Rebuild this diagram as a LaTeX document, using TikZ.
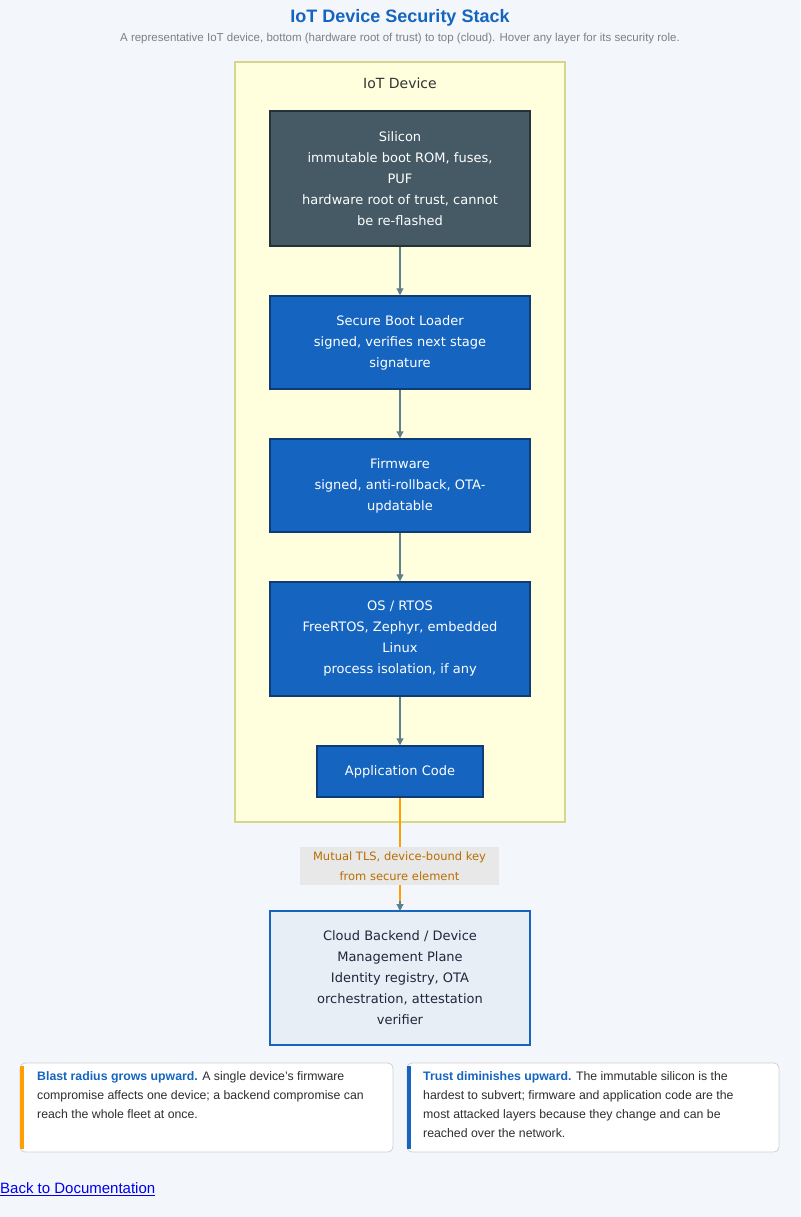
\documentclass[tikz,border=0pt]{standalone}
\usepackage{fontspec}
\setmainfont{Liberation Sans}
\newfontfamily\dfont{DejaVu Sans}
\usetikzlibrary{arrows.meta}
\definecolor{bg}{HTML}{F3F6FB}
\definecolor{mblue}{HTML}{1565C0}
\definecolor{dblue}{HTML}{0D3C78}
\definecolor{slate}{HTML}{455A64}
\definecolor{dslate}{HTML}{263238}
\definecolor{edge}{HTML}{5F7F8F}
\definecolor{orng}{HTML}{FFA000}
\definecolor{devfill}{HTML}{FFFFDE}
\definecolor{devdraw}{HTML}{D6D68C}
\definecolor{cloudfill}{HTML}{E8EEF6}
\definecolor{cloudtext}{HTML}{1E283C}
\definecolor{lblfill}{HTML}{E8E8E8}
\definecolor{lbltext}{HTML}{B86E00}
\definecolor{linkc}{HTML}{0000EE}
\begin{document}
\begin{tikzpicture}[x=1pt,y=-1pt,
  box/.style={draw=dblue,line width=1.5pt,fill=mblue,text=white,font=\dfont\fontsize{13}{21}\selectfont,align=center,inner sep=0pt},
  arr/.style={draw=edge,line width=1.2pt,-{Triangle[length=7pt,width=7pt]}},
  note/.style={draw=black!18,fill=white,rounded corners=5pt,line width=0.8pt},
  ntext/.style={anchor=north west,align=left,font=\fontsize{12.3}{19}\selectfont,text=black!82,inner sep=0pt}]
\fill[bg] (0,0) rectangle (800,1217);
\useasboundingbox (0,0) rectangle (800,1217);
\node (title) at (400,18) {\fontsize{18}{20}\selectfont\bfseries\color{mblue}IoT Device Security Stack};
\node (sub) at (400,39) {\fontsize{11.5}{13}\selectfont\color{black!50}A representative IoT device, bottom (hardware root of trust) to top (cloud). Hover any layer for its security role.};
\draw[fill=devfill,draw=devdraw,line width=1.2pt] (235,62) rectangle (565,822);
\node (devlbl) at (400,83) {\dfont\fontsize{14}{16}\selectfont\color{black!80}IoT Device};
\node[box,fill=slate,draw=dslate,minimum width=260pt,minimum height=135pt] (sil) at (400,178.5) {Silicon\\immutable boot ROM, fuses,\\PUF\\hardware root of trust, cannot\\be re-flashed};
\node[box,minimum width=260pt,minimum height=93pt] (sbl) at (400,342.5) {Secure Boot Loader\\signed, verifies next stage\\signature};
\node[box,minimum width=260pt,minimum height=93pt] (fw) at (400,485.5) {Firmware\\signed, anti-rollback, OTA-\\updatable};
\node[box,minimum width=260pt,minimum height=114pt] (os) at (400,639) {OS / RTOS\\FreeRTOS, Zephyr, embedded\\Linux\\process isolation, if any};
\node[box,minimum width=166pt,minimum height=51pt] (app) at (400,771.5) {Application Code};
\node[draw=mblue,line width=2pt,fill=cloudfill,text=cloudtext,font=\dfont\fontsize{13}{21}\selectfont,align=center,minimum width=260pt,minimum height=134pt,inner sep=0pt] (cloud) at (400,978) {Cloud Backend / Device\\Management Plane\\Identity registry, OTA\\orchestration, attestation\\verifier};
\coordinate (tipstart) at ([yshift=9pt]cloud.north);
\draw[arr] (sil) -- (sbl);
\draw[arr] (sbl) -- (fw);
\draw[arr] (fw) -- (os);
\draw[arr] (os) -- (app);
\draw[orng,line width=2.5pt] (app.south) -- (tipstart);
\node[fill=lblfill,minimum width=199pt,minimum height=38pt,inner sep=0pt,align=center,font=\dfont\fontsize{11.5}{20}\selectfont,text=lbltext] (lbl) at (399.5,866) {Mutual TLS, device-bound key\\from secure element};
\draw[arr,shorten >=-1pt] (tipstart) -- (cloud.north);
\draw[note] (20,1063) rectangle (393,1152);
\draw[orng,line width=4pt] (22,1066) -- (22,1149);
\draw[note] (407,1063) rectangle (779,1152);
\draw[mblue,line width=4pt] (409,1066) -- (409,1149);
\node[ntext] (n1) at (37,1071) {\textbf{\color{mblue}Blast radius grows upward.} A single device's firmware\\compromise affects one device; a backend compromise can\\reach the whole fleet at once.};
\node[ntext] (n2) at (423,1071) {\textbf{\color{mblue}Trust diminishes upward.} The immutable silicon is the\\hardest to subvert; firmware and application code are the\\most attacked layers because they change and can be\\reached over the network.};
\node[anchor=west,inner sep=0pt,font=\fontsize{15}{17}\selectfont,text=linkc] (back) at (0,1189) {\underline{Back to Documentation}};
\end{tikzpicture}
\end{document}
